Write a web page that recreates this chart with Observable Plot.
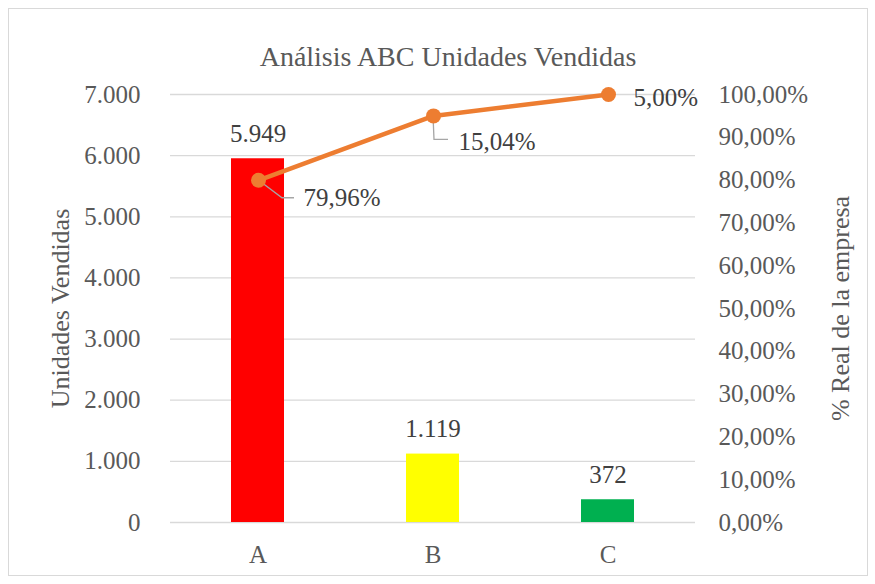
<!DOCTYPE html>
<html><head><meta charset="utf-8">
<script src="https://cdn.jsdelivr.net/npm/d3@7"></script>
<script src="https://cdn.jsdelivr.net/npm/@observablehq/plot@0.6"></script>
<style>
html,body{margin:0;padding:0;background:#fff;}
#chart{position:relative;width:875px;height:584px;overflow:hidden;background:#fff;}
#chart svg{position:absolute;left:0;top:0;background:transparent;}
#border{position:absolute;left:8px;top:8px;width:858px;height:566px;border:1px solid #d9d9d9;}
</style></head><body>
<div id="chart"><div id="border"></div></div>
<script>
// ---- data ----
const title = "Análisis ABC Unidades Vendidas";
const categories = ["A", "B", "C"];
const units = [5949, 1119, 372];
const barColors = ["#FF0000", "#FFFF00", "#00B050"];
const sharePct = [79.96, 15.04, 5.00];
const cumulativePct = [79.96, 95.00, 100.00];
const unitTicks = [0, 1000, 2000, 3000, 4000, 5000, 6000, 7000];
const pctTicks = [0, 10, 20, 30, 40, 50, 60, 70, 80, 90, 100];
const leftLabel = "Unidades Vendidas";
const rightLabel = "% Real de la empresa";

// ---- presentation ----
const W = 875, H = 584;
const M = {top: 94, right: 180, bottom: 62, left: 170};
const FONT = "'Liberation Serif', 'Times New Roman', serif";
const TEXT = "#595959", DATA_TEXT = "#404040", GRID = "#d9d9d9", LINE = "#ED7D31";
const loc = d3.formatLocale({decimal: ",", thousands: ".", grouping: [3], currency: ["", "€"]});
const fInt = loc.format(",d");
const fPct = d => loc.format(",.2f")(d) + "%";

const rows = categories.map((c, i) => ({cat: c, units: units[i], share: sharePct[i], cum: cumulativePct[i]}));
// label offsets (pixels) and leader-line bends relative to each line point
const labelOffsets = [{dx: 45, dy: 18}, {dx: 25, dy: 26}, {dx: 25, dy: 3}];
const leaders = [[[24, 18], [36, 18]], [[1, 24], [15, 24]], null];

const chart = document.getElementById("chart");

const bars = Plot.plot({
  width: W, height: H,
  marginTop: M.top, marginRight: M.right, marginBottom: M.bottom, marginLeft: M.left,
  style: {fontFamily: FONT, fontSize: "25px", color: TEXT, background: "transparent"},
  x: {type: "band", domain: categories, paddingInner: 0.7, paddingOuter: 0.35, align: 0.5},
  y: {domain: [0, 7000]},
  color: {domain: categories, range: barColors},
  marks: [
    Plot.gridY(unitTicks, {stroke: GRID, strokeOpacity: 1, strokeWidth: 1.3}),
    Plot.barY(rows, {x: "cat", y: "units", fill: "cat"}),
    Plot.text(rows, {x: "cat", y: "units", text: d => fInt(d.units), dy: -25, fill: DATA_TEXT, fontSize: 25}),
    Plot.axisY({ticks: unitTicks, tickFormat: fInt, tickSize: 0, tickPadding: 30, label: null, fontSize: 25}),
    Plot.axisX({tickSize: 0, tickPadding: 23, label: null, fontSize: 25}),
    Plot.text([leftLabel], {frameAnchor: "left", textAnchor: "middle", lineAnchor: "middle", dx: -110, rotate: -90, fontSize: 26, fill: TEXT}),
    Plot.text([rightLabel], {frameAnchor: "right", textAnchor: "middle", lineAnchor: "middle", dx: 145, rotate: -90, fontSize: 26, fill: TEXT}),
    Plot.text([title], {frameAnchor: "top", dx: 15, dy: -48, fontSize: 28, fill: TEXT})
  ]
});
chart.appendChild(bars);

const line = Plot.plot({
  width: W, height: H,
  marginTop: M.top, marginRight: M.right, marginBottom: M.bottom, marginLeft: M.left,
  style: {fontFamily: FONT, fontSize: "25px", color: TEXT, background: "transparent"},
  x: {type: "point", domain: categories, padding: 0.5, axis: null},
  y: {domain: [0, 100]},
  marks: [
    Plot.dot(rows, {x: "cat", y: "cum", r: 1, render(index, scales) {
      const g = d3.create("svg:g");
      const bw = (typeof scales.x.bandwidth === "number" ? scales.x.bandwidth : 0) / 2;
      for (const i of index) {
        const pts = leaders[i];
        if (!pts) continue;
        const px = scales.x(rows[i].cat) + bw, py = scales.y(rows[i].cum);
        g.append("path")
          .attr("d", d3.line()([[px, py], ...pts.map(([a, b]) => [px + a, py + b])]))
          .attr("fill", "none").attr("stroke", "#a6a6a6").attr("stroke-width", 1.3);
      }
      return g.node();
    }}),
    Plot.line(rows, {x: "cat", y: "cum", stroke: LINE, strokeWidth: 4.5}),
    Plot.dot(rows, {x: "cat", y: "cum", r: 7.5, fill: LINE, stroke: "none"}),
    ...rows.map((r, i) => Plot.text([r], {x: "cat", y: "cum", text: d => fPct(d.share), textAnchor: "start",
      dx: labelOffsets[i].dx, dy: labelOffsets[i].dy, fill: DATA_TEXT, fontSize: 25})),
    Plot.axisY({anchor: "right", ticks: pctTicks, tickFormat: fPct, tickSize: 0, tickPadding: 23, label: null, fontSize: 25})
  ]
});
chart.appendChild(line);
</script>
</body></html>
